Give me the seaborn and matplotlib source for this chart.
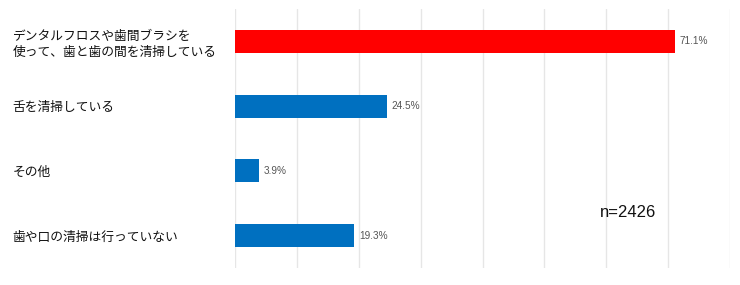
import matplotlib
matplotlib.use("Agg")
import matplotlib.pyplot as plt
import seaborn as sns
import pandas as pd

categories = ["デンタルフロスや歯間ブラシを\n使って、歯と歯の間を清掃している",
              "舌を清掃している", "その他", "歯や口の清掃は行っていない"]
values = [71.1, 24.5, 3.9, 19.3]
colors = ["#FF0000", "#0070C0", "#0070C0", "#0070C0"]
value_labels = ["71.1%", "24.5%", "3.9%", "19.3%"]
note = "n=2426"

sns.set_theme(style="white")
plt.rcParams['font.family'] = ['Noto Sans CJK JP', 'DejaVu Sans']

df = pd.DataFrame({"cat": categories, "val": values})
fig = plt.figure(figsize=(7.4, 2.85), dpi=100)
ax = fig.add_axes([235/740, 1-268/285, (730-235)/740, (268-9)/285])
sns.barplot(data=df, x="val", y="cat", hue="cat", palette=colors, legend=False,
            width=0.355, ax=ax, edgecolor="none", saturation=1)
ax.set_xlim(0, 80)
ax.set_xticks(range(0, 81, 10))
ax.set_xticklabels([])
ax.grid(axis="x", color="#e6e6e6", linewidth=1)
ax.set_axisbelow(True)
for s in ax.spines.values():
    s.set_visible(False)
ax.set_xlabel("")
ax.set_ylabel("")
ax.tick_params(axis="y", length=0, pad=160)
ax.tick_params(axis="x", length=0)
for lbl in ax.get_yticklabels():
    lbl.set_ha("left")
    lbl.set_fontsize(9.2)
    lbl.set_color("#111111")
    lbl.set_linespacing(1.3)
for i, (v, t) in enumerate(zip(values, value_labels)):
    ax.text(v + 0.8, i, t, va="center", ha="left", fontsize=7.2, color="#555555",
            family=["Liberation Sans", "DejaVu Sans"])
ax.text(58.9, 2.65, note, fontsize=12, color="#111111", va="center", ha="left",
        family=["Liberation Sans Narrow", "Liberation Sans", "DejaVu Sans"])
fig.savefig("out.png", dpi=100)
